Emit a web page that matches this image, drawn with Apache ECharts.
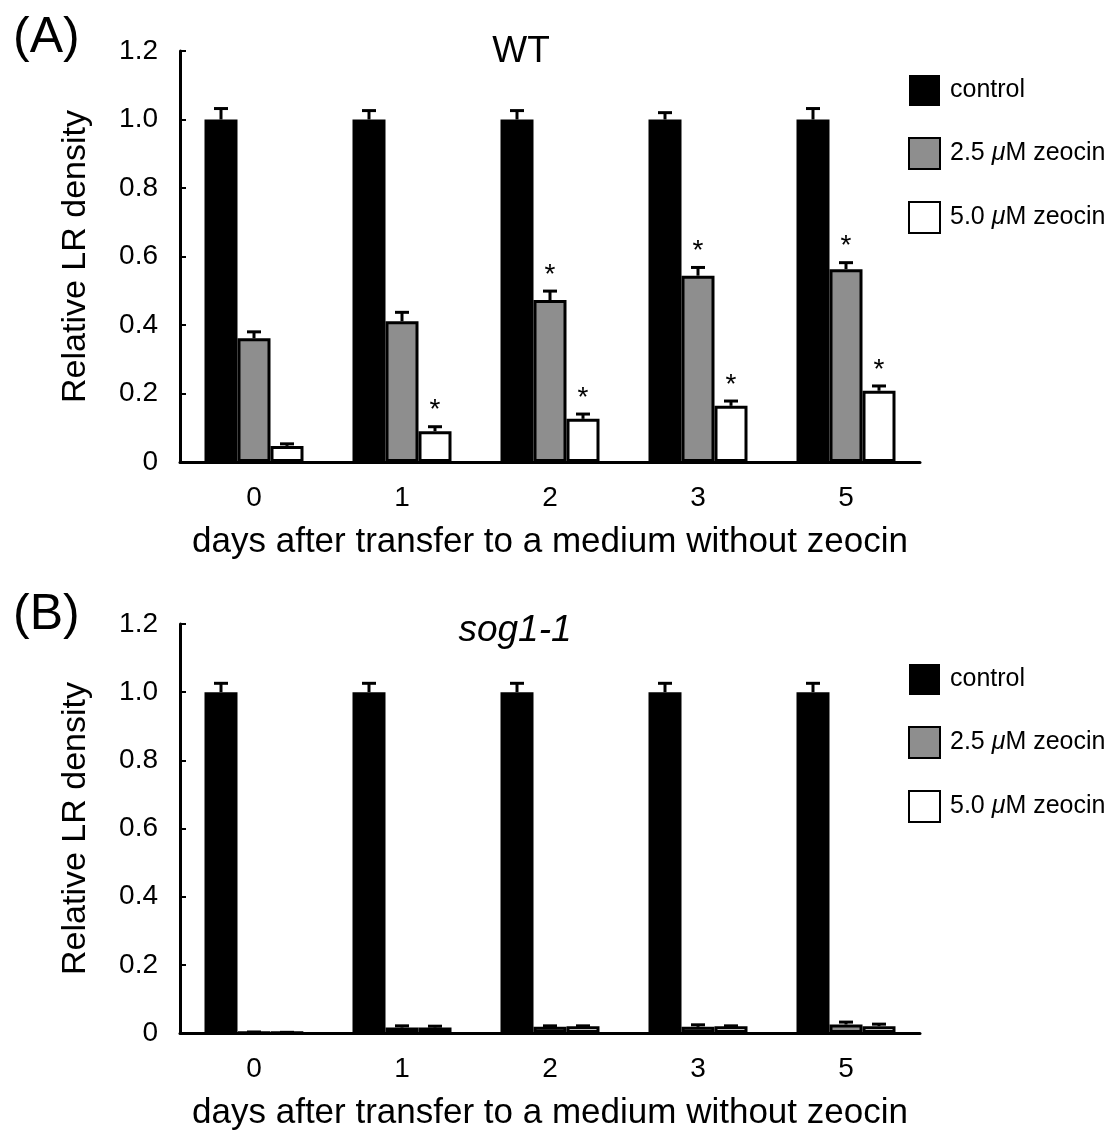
<!DOCTYPE html>
<html>
<head>
<meta charset="utf-8">
<script src="https://cdn.jsdelivr.net/npm/echarts@6/dist/echarts.min.js"></script>
<style>
html,body{margin:0;padding:0;background:#fff;}
#chart{width:1117px;height:1139px;}
</style>
</head>
<body>
<div id="chart"></div>
<script>
// ---------- data ----------
const categories = ['0', '1', '2', '3', '5'];
const seriesNames = ['control', '2.5 μM zeocin', '5.0 μM zeocin'];
const yTickLabels = ['0', '0.2', '0.4', '0.6', '0.8', '1.0', '1.2'];

// Panel A: WT
const wtControl    = [1.0, 1.0, 1.0, 1.0, 1.0];
const wtControlErr = [0.032, 0.026, 0.026, 0.020, 0.032];
const wtLow        = [0.361, 0.411, 0.473, 0.544, 0.563];
const wtLowErr     = [0.019, 0.026, 0.026, 0.024, 0.019];
const wtLowSig     = [0, 0, 1, 1, 1];
const wtHigh       = [0.047, 0.090, 0.126, 0.164, 0.208];
const wtHighErr    = [0.006, 0.013, 0.014, 0.014, 0.014];
const wtHighSig    = [0, 1, 1, 1, 1];

// Panel B: sog1-1
const sogControl    = [1.0, 1.0, 1.0, 1.0, 1.0];
const sogControlErr = [0.026, 0.026, 0.026, 0.026, 0.026];
const sogLow        = [0.002, 0.016, 0.018, 0.018, 0.025];
const sogLowErr     = [0.001, 0.005, 0.003, 0.006, 0.007];
const sogHigh       = [0.001, 0.016, 0.020, 0.020, 0.020];
const sogHighErr    = [0.001, 0.004, 0.001, 0.001, 0.006];
const noSig         = [0, 0, 0, 0, 0];

// ---------- styling ----------
const FONT = '"Liberation Sans", Arial, Helvetica, sans-serif';
const colors = ['#000000', '#8e8e8e', '#ffffff'];
const BAR_W = 33;

function errRender(offset) {
  return function (params, api) {
    const i = api.value(0), v = api.value(1), e = api.value(2), s = api.value(3);
    const base = api.coord([i, v]);
    const top = api.coord([i, v + e]);
    const x = base[0] + offset;
    const children = [
      {type: 'line', shape: {x1: x, y1: base[1], x2: x, y2: top[1]}, style: {stroke: '#000', lineWidth: 3}},
      {type: 'line', shape: {x1: x - 7, y1: top[1], x2: x + 7, y2: top[1]}, style: {stroke: '#000', lineWidth: 3}}
    ];
    if (s) {
      children.push({type: 'text', style: {text: '*', x: x, y: top[1] - 16, textAlign: 'center', textVerticalAlign: 'middle', font: '28px ' + FONT, fill: '#000'}});
    }
    return {type: 'group', children: children};
  };
}

function makePanel(idx, vals, errs, sigs) {
  const out = [];
  const offsets = [-BAR_W, 0, BAR_W];
  for (let k = 0; k < 3; k++) {
    out.push({
      name: seriesNames[k], type: 'bar', xAxisIndex: idx, yAxisIndex: idx,
      data: vals[k], barWidth: BAR_W, barGap: '0%',
      itemStyle: {color: colors[k], borderColor: '#000', borderWidth: k === 0 ? 0 : 3},
      emphasis: {disabled: true}, animation: false
    });
  }
  for (let k = 0; k < 3; k++) {
    out.push({
      type: 'custom', xAxisIndex: idx, yAxisIndex: idx, z: 5,
      renderItem: errRender(offsets[k]),
      encode: {x: 0, y: 1},
      data: vals[k].map((v, i) => [i, v, errs[k][i], sigs[k][i]]),
      silent: true, animation: false
    });
  }
  return out;
}

function xAxisOpt(idx) {
  return {
    type: 'category', gridIndex: idx, data: categories,
    axisLine: {show: true, lineStyle: {color: '#000', width: 3}},
    axisTick: {show: false},
    axisLabel: {color: '#000', fontSize: 28, fontFamily: FONT, margin: 22},
    name: 'days after transfer to a medium without zeocin',
    nameLocation: 'middle', nameGap: 63,
    nameTextStyle: {color: '#000', fontSize: 35, fontFamily: FONT}
  };
}
function yAxisOpt(idx) {
  return {
    type: 'value', gridIndex: idx, min: 0, max: 1.2, interval: 0.2,
    axisLine: {show: true, lineStyle: {color: '#000', width: 3}},
    axisTick: {show: true, inside: true, length: 6, lineStyle: {color: '#000', width: 2}},
    splitLine: {show: false},
    axisLabel: {color: '#000', fontSize: 28, fontFamily: FONT, margin: 22,
      formatter: v => yTickLabels[Math.round(v / 0.2)]},
    name: 'Relative LR density', nameLocation: 'middle', nameGap: 87, nameRotate: 90,
    nameTextStyle: {color: '#000', fontSize: 34, fontFamily: FONT}
  };
}

const legendFormatter = n => n.replace('μ', '{i|μ}');
function legendOpt(top) {
  return {
    orient: 'vertical', left: 903, top: top, itemWidth: 31, itemHeight: 31, itemGap: 31,
    icon: 'rect', selectedMode: false,
    data: seriesNames,
    formatter: legendFormatter,
    textStyle: {color: '#000', fontSize: 25, fontFamily: FONT, padding: [0, 0, 0, 5],
      rich: {i: {fontStyle: 'italic', fontSize: 25, fontFamily: FONT, color: '#000'}}}
  };
}

const chart = echarts.init(document.getElementById('chart'), null, {renderer: 'canvas'});
chart.setOption({
  backgroundColor: '#fff',
  animation: false,
  title: [
    {text: '(A)', left: 8, top: 8, textStyle: {fontSize: 50, fontWeight: 'normal', color: '#000', fontFamily: FONT}},
    {text: 'WT', left: 516, top: 28, textAlign: 'center', textStyle: {fontSize: 37, fontWeight: 'normal', color: '#000', fontFamily: FONT}},
    {text: '(B)', left: 8, top: 585, textStyle: {fontSize: 50, fontWeight: 'normal', color: '#000', fontFamily: FONT}},
    {text: 'sog1-1', left: 510, top: 607, textAlign: 'center', textStyle: {fontSize: 37, fontWeight: 'normal', fontStyle: 'italic', color: '#000', fontFamily: FONT}}
  ],
  legend: [legendOpt(70), legendOpt(659)],
  grid: [
    {left: 180, right: 197, top: 51, height: 411, containLabel: false},
    {left: 180, right: 197, top: 624, height: 409, containLabel: false}
  ],
  xAxis: [xAxisOpt(0), xAxisOpt(1)],
  yAxis: [yAxisOpt(0), yAxisOpt(1)],
  series: [
    ...makePanel(0, [wtControl, wtLow, wtHigh], [wtControlErr, wtLowErr, wtHighErr], [noSig, wtLowSig, wtHighSig]),
    ...makePanel(1, [sogControl, sogLow, sogHigh], [sogControlErr, sogLowErr, sogHighErr], [noSig, noSig, noSig])
  ]
});
</script>
</body>
</html>
